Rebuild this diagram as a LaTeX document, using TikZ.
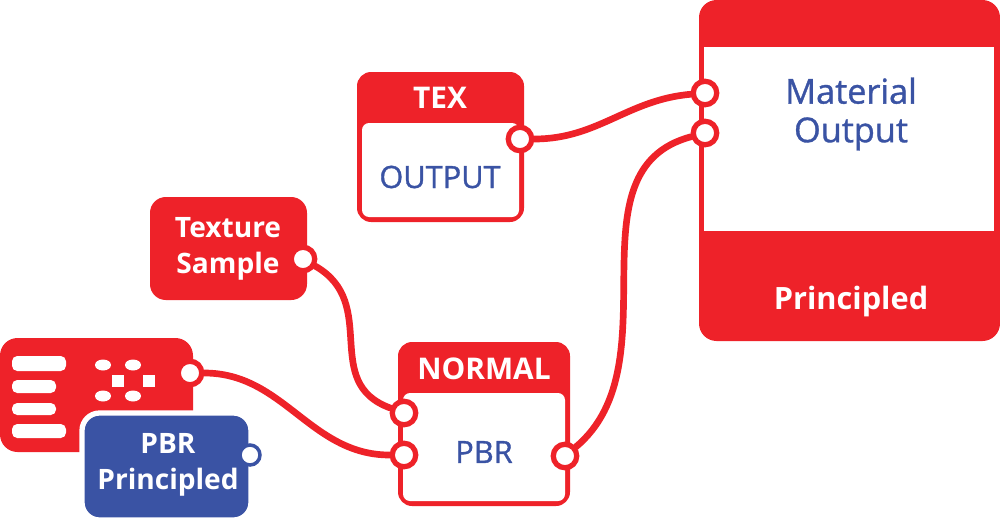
\documentclass[tikz,border=0pt]{standalone}
\usepackage{fontspec}
\setmainfont{Open Sans}
\newfontfamily\medfont[FakeBold=1]{Open Sans}
\definecolor{nodered}{HTML}{EE2229}
\definecolor{nodeblue}{HTML}{3A53A4}
\tikzset{
  port/.style={circle, draw=nodered, fill=white, line width=3pt,
    minimum size=0.47cm, inner sep=0pt},
  wire/.style={draw=nodered, line width=3.8pt, line cap=round},
  headtext/.style={text=white, font=\bfseries\fontsize{17}{20}\selectfont},
  bodytext/.style={text=nodeblue, font=\medfont\fontsize{17.5}{20}\selectfont},
  tagtext/.style={text=white, align=center, font=\bfseries\fontsize{16}{20.5}\selectfont},
}
\begin{document}
\begin{tikzpicture}[x=0.02cm, y=-0.02cm]
  \useasboundingbox (0,0) rectangle (1000,518);

  % Material output node: red frame, white body
  \fill[nodered, rounded corners=10] (699,0) rectangle (1000,341);
  \fill[white] (704,47) rectangle (994,231);
  \node[bodytext, font=\medfont\fontsize{19.5}{22}\selectfont, align=center] (matname) at (851,114) {Material\\Output};
  \node[headtext, font=\bfseries\fontsize{17.5}{20}\selectfont] (matfoot) at (851,302) {Principled};

  % TEX node
  \fill[nodered, rounded corners=8] (357,72) rectangle (524,222);
  \fill[white, rounded corners=4] (362,123) rectangle (519,217);
  \node[headtext] (texhead) at (440,98) {TEX};
  \node[bodytext] (texbody) at (440,177) {OUTPUT};

  % NORMAL node
  \fill[nodered, rounded corners=8] (398,342) rectangle (570,506);
  \fill[white, rounded corners=4] (403,393) rectangle (565,501);
  \node[headtext] (normhead) at (484,369) {NORMAL};
  \node[bodytext] (normbody) at (484,452) {PBR};

  % Texture sample tag
  \fill[nodered, rounded corners=9] (150,197) rectangle (307,300);
  \node[tagtext] (texsample) at (228,249) {Texture\\Sample};

  % Chip icon with slots and dots
  \fill[nodered, rounded corners=10] (0,338) rectangle (193,452);
  \foreach \ya/\yb/\xr in {356/371/66, 380/393/56, 403/415/56, 424/438/66}
    \fill[white, rounded corners=3] (12,\ya) rectangle (\xr,\yb);
  \foreach \xa in {103,133}
    \foreach \ya in {365,396}
      \fill[white] (\xa,\ya) ellipse (8 and 5.5);
  \foreach \xa in {118,149}
    \fill[white] (\xa-6,375) rectangle (\xa+6,387);

  % PBR principled tag, cut out of the chip
  \filldraw[fill=nodeblue, draw=white, line width=3pt, rounded corners=10] (82,413) rectangle (251,520);
  \node[tagtext] (pbrtag) at (168,465) {PBR\\Principled};

  % Sockets
  \node[port] (matin1) at (705,93) {};
  \node[port] (matin2) at (705,133) {};
  \node[port] (texout) at (520,139) {};
  \node[port] (normin1) at (404,413) {};
  \node[port] (normin2) at (404,455) {};
  \node[port] (normout) at (565,456) {};
  \node[port] (sampleout) at (303,259) {};
  \node[port] (chipout) at (190,373) {};
  \node[port, minimum size=0.4cm, draw=nodeblue, line width=2pt] (pbrout) at (250,455) {};

  % Wires
  \draw[wire] (texout) to[out=0, in=185] (matin1);
  \draw[wire] (normout) to[out=40, in=195] (matin2);
  \draw[wire] (sampleout) to[out=-30, in=160, looseness=1.2] (normin1);
  \draw[wire] (chipout) to[out=0, in=180] (normin2);
\end{tikzpicture}
\end{document}
